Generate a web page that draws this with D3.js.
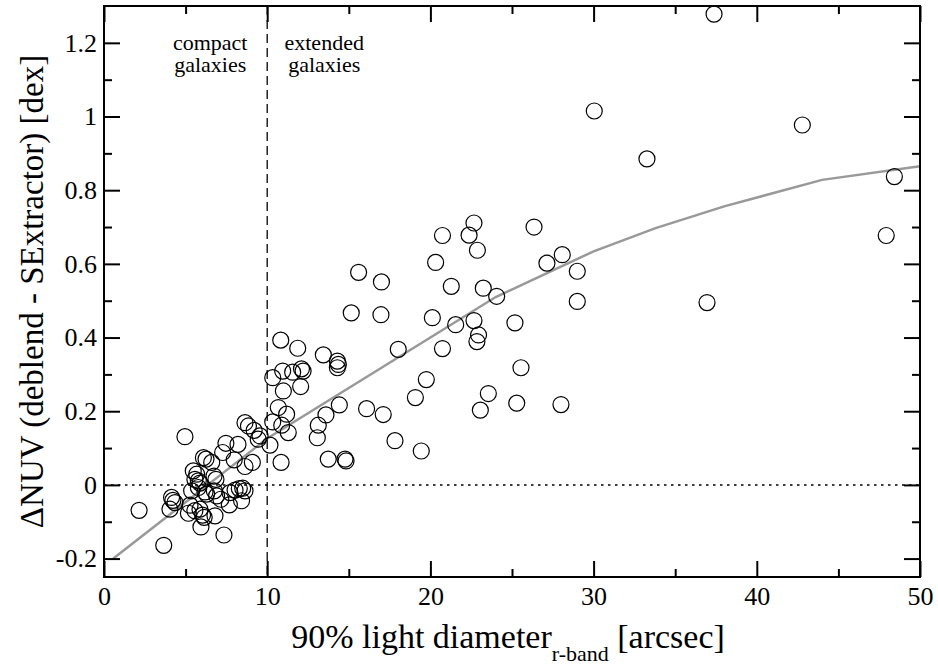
<!DOCTYPE html>
<html>
<head>
<meta charset="utf-8">
<script src="https://cdnjs.cloudflare.com/ajax/libs/d3/7.8.5/d3.min.js"></script>
<style>
    body { margin: 0; background: #fff; }
    svg { display: block; }
    text { font-family: "Liberation Serif", "Times New Roman", serif; fill: #000; }
</style>
</head>
<body>
<div id="chart"></div>
<script>
// galaxies: 90% light diameter (r-band, arcsec) vs NUV difference (dex)
var diameter = [
    2.15, 3.66, 4.04, 4.14, 4.22, 4.35, 4.96, 5.17, 5.27, 5.37, 5.47, 5.57, 5.68, 5.78, 5.88,
    5.57, 5.88, 5.94, 6.04, 6.14, 5.78, 6.19, 6.09, 6.25, 6.29, 6.6, 6.74, 6.86, 6.76, 6.9,
    6.8, 7.16, 7.27, 7.47, 7.35, 7.68, 7.72, 7.98, 8.03, 8.21, 8.29, 8.5, 8.64, 8.43, 8.64,
    9.09, 8.64, 8.85, 9.2, 9.56, 9.45,
    10.17, 10.34, 10.34, 10.68, 10.83, 10.85, 10.89, 10.95, 10.99, 11.19, 11.29, 11.56, 11.87,
    12.1, 12.2, 12.05, 13.07, 13.13, 13.44, 13.6, 13.74, 14.3, 14.36, 14.3, 14.42, 14.77, 14.83,
    15.15, 15.6, 16.09, 16.97, 17.0, 17.11, 17.83, 18.03, 19.08, 19.44, 19.75, 20.12, 20.32,
    20.74, 20.74, 21.28, 21.55, 22.37, 22.67, 22.67, 22.88, 22.95, 22.85, 23.06, 23.24, 23.55,
    24.06, 25.18, 25.29, 25.55, 26.35, 27.14, 28.0, 28.08, 29.0, 29.0,
    30.04, 33.27, 36.95, 37.38, 42.79, 47.93, 48.43
];
var deltaNUV = [
    -0.069, -0.164, -0.066, -0.034, -0.042, -0.048, 0.131, -0.077, -0.055, -0.016, 0.038, 0.015, 0.029, 0.011, 0.005,
    -0.070, -0.066, -0.114, -0.082, -0.088, -0.007, -0.019, 0.074, 0.070, -0.025, 0.061, 0.024, 0.015, -0.016, -0.030,
    -0.084, -0.039, 0.088, 0.113, -0.136, -0.054, -0.021, 0.068, -0.014, 0.110, -0.010, -0.009, -0.016, -0.043, 0.050,
    0.061, 0.169, 0.160, 0.148, 0.133, 0.124,
    0.108, 0.291, 0.171, 0.210, 0.393, 0.061, 0.162, 0.309, 0.255, 0.192, 0.142, 0.306, 0.371,
    0.315, 0.309, 0.267, 0.128, 0.162, 0.353, 0.190, 0.070, 0.336, 0.327, 0.318, 0.217, 0.070, 0.065,
    0.467, 0.577, 0.207, 0.462, 0.551, 0.191, 0.120, 0.368, 0.237, 0.092, 0.286, 0.454, 0.604,
    0.677, 0.370, 0.539, 0.435, 0.678, 0.711, 0.446, 0.637, 0.407, 0.389, 0.203, 0.534, 0.248,
    0.512, 0.440, 0.222, 0.318, 0.700, 0.602, 0.218, 0.625, 0.580, 0.498,
    1.015, 0.885, 0.495, 1.278, 0.977, 0.677, 0.837
];

// running fit (grey curve)
var fitX = [0.57, 10, 20, 24, 30, 33.8, 38, 44, 50];
var fitY = [-0.2, 0.126, 0.40, 0.51, 0.634, 0.697, 0.756, 0.828, 0.865];

// axis ticks
var xMajor = [0, 10, 20, 30, 40, 50];
var xMinor = [5, 15, 25, 35, 45];
var yMajor = [-0.2, 0, 0.2, 0.4, 0.6, 0.8, 1, 1.2];
var yMinor = [-0.1, 0.1, 0.3, 0.5, 0.7, 0.9, 1.1];

const serif = '"Liberation Serif", "Times New Roman", Times, serif';
const width = 938, height = 667;
const margin = { top: 6, right: 18, bottom: 90, left: 104 };
const w = width - margin.left - margin.right,
    h = height - margin.top - margin.bottom;

var svg = d3.select('#chart').append('svg')
    .attr('width', width)
    .attr('height', height)
    .attr('font-family', serif);

var g = svg.append('g')
    .attr('transform', 'translate(' + margin.left + ',' + margin.top + ')');

var x = d3.scaleLinear().domain([0, 50]).range([0, w]);
var y = d3.scaleLinear().domain([-0.25, 1.3]).range([h, 0]);

// clip marks to the frame
g.append('clipPath').attr('id', 'clip')
    .append('rect').attr('width', w).attr('height', h);

var plot = g.append('g').attr('clip-path', 'url(#clip)');

// zero line (dotted)
plot.append('line')
    .attr('x1', 0).attr('x2', w)
    .attr('y1', y(0)).attr('y2', y(0))
    .attr('stroke', '#000')
    .attr('stroke-width', 1.5)
    .attr('stroke-dasharray', '2.5,4.5');

// compact / extended divider (dashed)
plot.append('line')
    .attr('x1', x(10)).attr('x2', x(10))
    .attr('y1', 0).attr('y2', h)
    .attr('stroke', '#000')
    .attr('stroke-width', 1.3)
    .attr('stroke-dasharray', '9,5');

// fit curve
plot.append('path')
    .datum(d3.zip(fitX, fitY))
    .attr('fill', 'none')
    .attr('stroke', '#999')
    .attr('stroke-width', 2.5)
    .attr('d', d3.line()
        .x((d) => { return x(d[0]); })
        .y((d) => { return y(d[1]); }));

// data points
plot.selectAll('circle')
    .data(d3.zip(diameter, deltaNUV))
    .enter().append('circle')
    .attr('cx', (d) => { return x(d[0]); })
    .attr('cy', (d) => { return y(d[1]); })
    .attr('r', 8)
    .attr('fill', 'none')
    .attr('stroke', '#000')
    .attr('stroke-width', 1.2);

// region labels
function regionLabel (cx, lines) {
    var t = g.append('text')
        .attr('text-anchor', 'middle')
        .style('font-family', serif)
        .style('font-size', '22px');
    lines.forEach((s, i) => {
        t.append('tspan').attr('x', cx).attr('y', 44 + i * 22).text(s);
    });
}
regionLabel(x(10) - 57, ['compact', 'galaxies']);
regionLabel(x(10) + 57, ['extended', 'galaxies']);

// axes: ticks point inward on all four sides
function tickAxis (axis, vals, len, pad, labels) {
    return axis.tickValues(vals).tickSizeInner(-len).tickSizeOuter(0)
        .tickPadding(pad)
        .tickFormat(labels ? d3.format('') : '');
}

var axes = [
    [d3.axisBottom(x), 'translate(0,' + h + ')', xMajor, xMinor, 10, true],
    [d3.axisTop(x), 'translate(0,0)', xMajor, xMinor, 0, false],
    [d3.axisLeft(y), 'translate(0,0)', yMajor, yMinor, 7, true],
    [d3.axisRight(y), 'translate(' + w + ',0)', yMajor, yMinor, 0, false]
];

axes.forEach((a) => {
    var major = g.append('g').attr('transform', a[1])
        .call(tickAxis(a[0], a[2], 16, a[4], a[5]));
    major.attr('font-family', serif);
    major.select('.domain').remove();
    major.selectAll('line').attr('stroke-width', 2);
    major.selectAll('text')
        .style('font-family', serif)
        .style('font-size', '26px')
        // plain hyphen for negative numbers
        .text(function () { return this.textContent.replace('\u2212', '-'); });

    var minor = g.append('g').attr('transform', a[1])
        .call(tickAxis(a[0], a[3], 8, 0, false));
    minor.select('.domain').remove();
    minor.selectAll('line').attr('stroke-width', 2);
});

// frame
g.append('rect')
    .attr('width', w).attr('height', h)
    .attr('fill', 'none')
    .attr('stroke', '#000')
    .attr('stroke-width', 2);

// axis titles
var xt = svg.append('text')
    .attr('x', 508)
    .attr('y', 648)
    .attr('text-anchor', 'middle')
    .style('font-family', serif)
    .style('font-size', '34px');
xt.append('tspan').text('90% light diameter');
xt.append('tspan').attr('dy', 13).style('font-size', '22px').text('r-band');
xt.append('tspan').attr('dy', -13).text(' [arcsec]');

svg.append('text')
    .attr('transform', 'translate(43,' + (margin.top + h / 2) + ') rotate(-90)')
    .attr('text-anchor', 'middle')
    .style('font-family', serif)
    .style('font-size', '33px')
    .text('\u0394NUV (deblend - SExtractor) [dex]');
</script>
</body>
</html>
